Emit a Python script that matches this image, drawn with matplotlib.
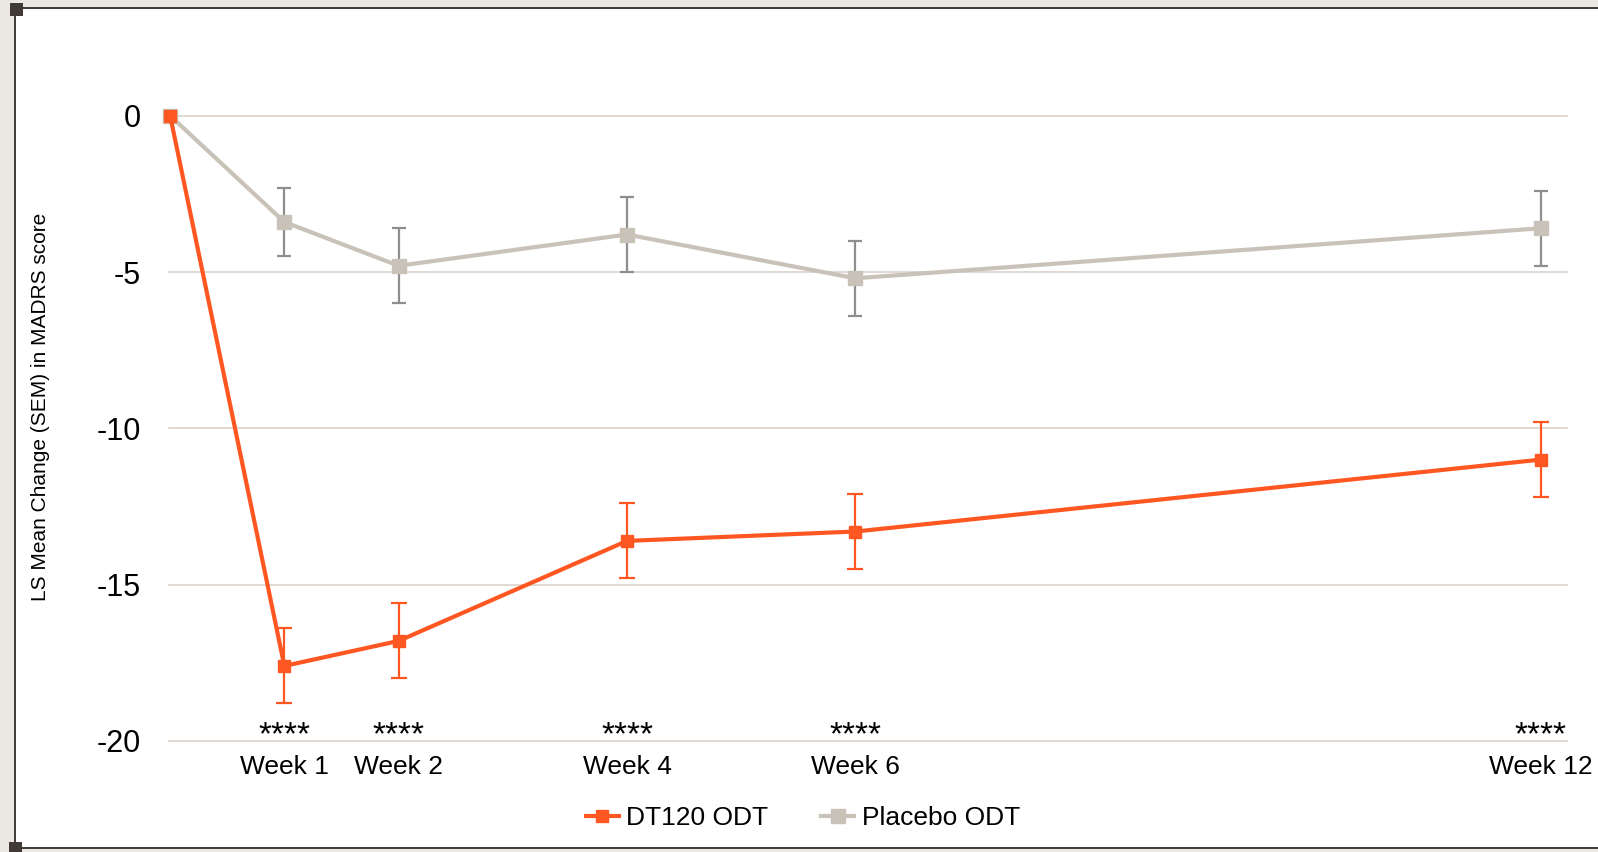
import matplotlib.pyplot as plt
from matplotlib.patches import Rectangle
from matplotlib.lines import Line2D

plt.rcParams['font.family'] = ['Liberation Sans', 'DejaVu Sans']

# study visits (weeks) and LS mean change from baseline
weeks = [0, 1, 2, 4, 6, 12]
week_labels = ['Week 1', 'Week 2', 'Week 4', 'Week 6', 'Week 12']
dt120 = [0, -17.6, -16.8, -13.6, -13.3, -11.0]
dt120_sem = [0, 1.2, 1.2, 1.2, 1.2, 1.2]
placebo = [0, -3.4, -4.8, -3.8, -5.2, -3.6]
placebo_sem = [0, 1.1, 1.2, 1.2, 1.2, 1.2]
stars = ['****', '****', '****', '****', '****']

orange = '#ff5722'
grey = '#c9c2b8'
bar_grey = '#8e8e8e'
W, H = 1598, 852

fig = plt.figure(figsize=(W / 100, H / 100), dpi=100)
fig.patch.set_facecolor('#ebe7e1')

# white panel with dark edges and the little corner handles
def px_rect(x, y, w, h, **kw):
    fig.add_artist(Rectangle((x / W, 1 - (y + h) / H), w / W, h / H,
                             transform=fig.transFigure, **kw))

px_rect(15, 8, W, 840, facecolor='white', edgecolor='none', zorder=-10)
edge = dict(color='#3f3a33', lw=1.4, zorder=-5)
fig.add_artist(Line2D([15 / W, 1], [1 - 8 / H] * 2, **edge))
fig.add_artist(Line2D([15 / W, 1], [1 - 848 / H] * 2, **edge))
fig.add_artist(Line2D([15 / W] * 2, [1 - 8 / H, 1 - 848 / H], **edge))
px_rect(10, 3, 13, 13, facecolor='#3f3a33', edgecolor='none', zorder=-4)
px_rect(9, 842, 13, 13, facecolor='#3f3a33', edgecolor='none', zorder=-4)

ax = fig.add_axes([169 / W, 1 - 741 / H, (1567 - 169) / W, (741 - 115.7) / H])
ax.set_facecolor('none')
ax.set_xlim(-0.01, 12.23)
ax.set_ylim(-20, 0)

for g in [0, -5, -10, -15, -20]:
    ax.axhline(g, color='#ddd7cf', lw=1.3, zorder=0, clip_on=False)

ax.errorbar(weeks[1:], placebo[1:], yerr=placebo_sem[1:], fmt='none',
            ecolor=bar_grey, elinewidth=1.6, capsize=5, capthick=1.6, zorder=2)
ax.plot(weeks, placebo, color=grey, lw=3, marker='s', ms=10,
        label='Placebo ODT', zorder=3, clip_on=False)
ax.errorbar(weeks[1:], dt120[1:], yerr=dt120_sem[1:], fmt='none',
            ecolor=orange, elinewidth=1.6, capsize=5.5, capthick=1.6, zorder=4)
ax.plot(weeks, dt120, color=orange, lw=3, marker='s', ms=9,
        label='DT120 ODT', zorder=5, clip_on=False)

# significance markers just above the baseline gridline
for w, s in zip(weeks[1:], stars):
    ax.text(w, -20.09, s, ha='center', va='baseline', fontsize=24,
            clip_on=False)

ax.set_xticks(weeks[1:])
ax.set_xticklabels(week_labels, fontsize=19)
ax.set_yticks([0, -5, -10, -15, -20])
ax.set_yticklabels(['0', '-5', '-10', '-15', '-20'], fontsize=22)
ax.tick_params(axis='both', length=0)
ax.tick_params(axis='y', pad=20)
ax.tick_params(axis='x', pad=10)
for sp in ax.spines.values():
    sp.set_visible(False)

fig.text(41 / W, 1 - 407 / H, 'LS Mean Change (SEM) in MADRS score',
         rotation=90, ha='center', va='center', fontsize=15)

handles, labels = ax.get_legend_handles_labels()
fig.legend(handles[::-1], labels[::-1], loc='center', ncol=2,
           bbox_to_anchor=(803 / W, 1 - 818 / H), frameon=False, fontsize=19,
           handlelength=1.25, handletextpad=0.3, columnspacing=2.0)

fig.savefig('out.png', dpi=100)
